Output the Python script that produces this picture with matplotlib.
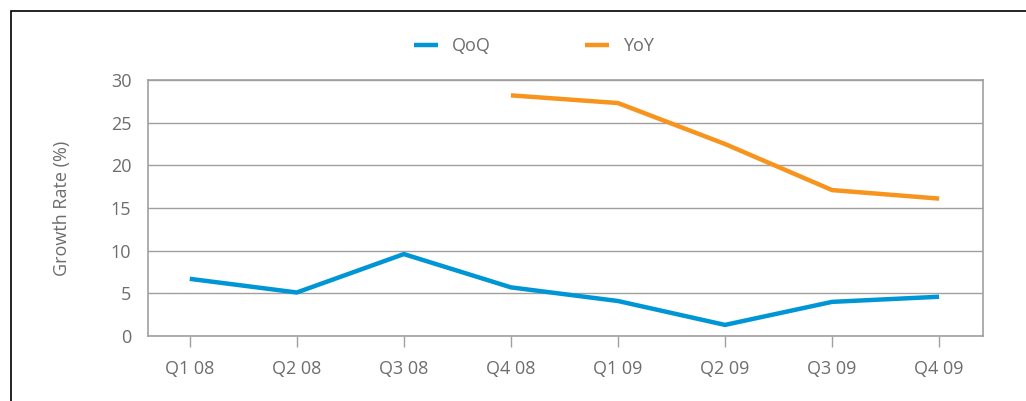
import matplotlib
matplotlib.use("Agg")
import matplotlib.pyplot as plt
from matplotlib.patches import Rectangle

quarters = ["Q1 08", "Q2 08", "Q3 08", "Q4 08", "Q1 09", "Q2 09", "Q3 09", "Q4 09"]
qoq = [6.7, 5.1, 9.6, 5.7, 4.1, 1.3, 4.0, 4.6]
yoy_quarters = ["Q4 08", "Q1 09", "Q2 09", "Q3 09", "Q4 09"]
yoy = [28.2, 27.3, 22.5, 17.1, 16.1]

BLUE = "#0096d6"
ORANGE = "#f7941d"
TEXT = "#6d6d6d"
GRID = "#a0a0a0"

plt.rcParams["font.family"] = ["Open Sans", "DejaVu Sans"]

W, H = 1026, 401
fig = plt.figure(figsize=(W / 100, H / 100), dpi=100)
ax = fig.add_axes([148 / W, 1 - 336 / H, (983 - 148) / W, (336 - 80) / H])

# outer frame, cut off at right and bottom like the source
fig.patches.append(Rectangle((11 / W, -0.1), 1.2, 1 - 11 / H + 0.1,
                             transform=fig.transFigure, fill=False,
                             edgecolor="black", linewidth=1.2))

x = list(range(len(quarters)))
xy = [quarters.index(q) for q in yoy_quarters]
ax.plot(x, qoq, color=BLUE, lw=3.2, label="QoQ", solid_capstyle="butt", zorder=3)
ax.plot(xy, yoy, color=ORANGE, lw=3.2, label="YoY", solid_capstyle="butt", zorder=3)

ax.set_xlim(-0.39, 7.41)
ax.set_ylim(0, 30)
ax.set_yticks(range(0, 31, 5))
ax.set_xticks(x)
ax.set_xticklabels(quarters)
ax.yaxis.grid(True, color=GRID, lw=1.0)
ax.set_axisbelow(True)
for s in ax.spines.values():
    s.set_color(GRID)
    s.set_linewidth(1.2)
ax.tick_params(axis="y", length=0, pad=12, labelsize=13, labelcolor=TEXT)
ax.tick_params(axis="x", length=8, color=GRID, width=1.0, pad=9,
               labelsize=13, labelcolor=TEXT)
ax.set_ylabel("Growth Rate (%)", color=TEXT, fontsize=13, labelpad=29)

ax.legend(loc="center", bbox_to_anchor=(0.462, 1 + 34 / 256), ncol=2, frameon=False,
          fontsize=13, labelcolor=TEXT, handlelength=1.35, columnspacing=5.2,
          handletextpad=0.75)

fig.savefig("out.png", dpi=100)
